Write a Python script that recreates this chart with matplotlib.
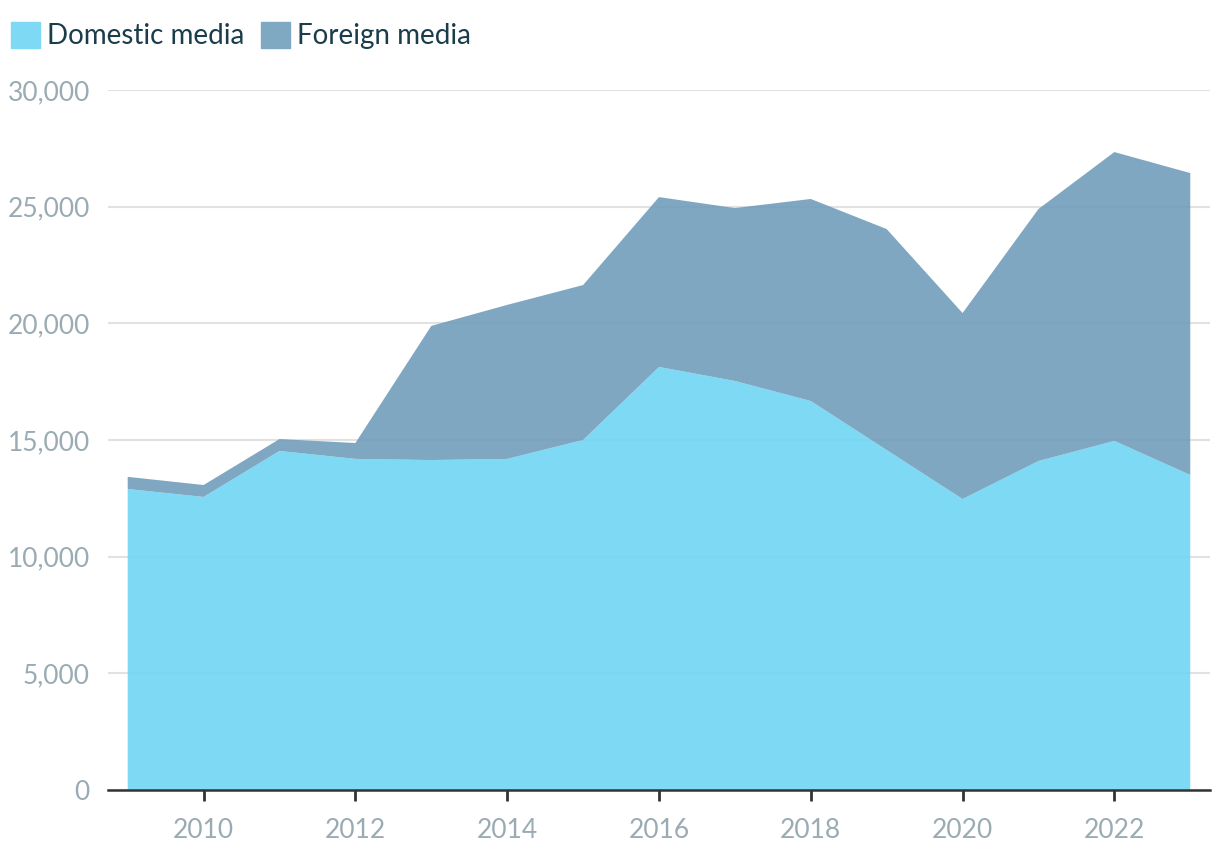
import matplotlib.pyplot as plt
from matplotlib.patches import Patch
from matplotlib.ticker import FuncFormatter

years = [2009, 2010, 2011, 2012, 2013, 2014, 2015, 2016, 2017, 2018, 2019, 2020, 2021, 2022, 2023]
domestic = [12900, 12560, 14530, 14190, 14140, 14190, 15000, 18130, 17530, 16670, 14570, 12470, 14100, 14960, 13500]
total = [13420, 13070, 15040, 14870, 19890, 20790, 21640, 25410, 24940, 25330, 24040, 20440, 24900, 27340, 26440]
foreign = [t - d for t, d in zip(total, domestic)]

plt.rcParams['font.family'] = ['Lato', 'DejaVu Sans']

fig = plt.figure(figsize=(12.2, 8.58), dpi=100)
ax = fig.add_axes([0.0885, 0.0793, 0.9033, 0.8158])

ax.stackplot(years, domestic, foreign, colors=['#70d5f3', '#719ebb'], alpha=0.9,
             labels=['Domestic media', 'Foreign media'], zorder=2)

ax.set_xlim(2008.74, 2023.26)
ax.set_ylim(0, 30000)
ax.set_yticks(range(0, 30001, 5000))
ax.set_xticks(range(2010, 2023, 2))
ax.yaxis.set_major_formatter(FuncFormatter(lambda v, p: f'{int(v):,}'))
ax.grid(axis='y', color='#e2e2e2', linewidth=1.5, zorder=0)
ax.set_axisbelow(True)

for s in ['top', 'right', 'left']:
    ax.spines[s].set_visible(False)
ax.spines['bottom'].set_color('#333333')
ax.spines['bottom'].set_linewidth(1.8)
ax.spines['bottom'].set_zorder(3)

ax.tick_params(axis='y', length=0, pad=13, labelsize=19, labelcolor='#9aabb3')
ax.tick_params(axis='x', length=8, width=2, color='#333333', pad=12,
               labelsize=19, labelcolor='#9aabb3')

handles = [Patch(color='#7ed9f4'), Patch(color='#7fa8c2')]
fig.legend(handles, ['Domestic media', 'Foreign media'], loc='upper left',
           bbox_to_anchor=(0.0, 1 - 11 / 858), ncol=2, frameon=False, fontsize=20,
           handlelength=1.05, handleheight=1.05, handletextpad=0.25,
           columnspacing=0.6, labelcolor='#1b3d4b', borderaxespad=0)

fig.savefig('out.png', dpi=100)
